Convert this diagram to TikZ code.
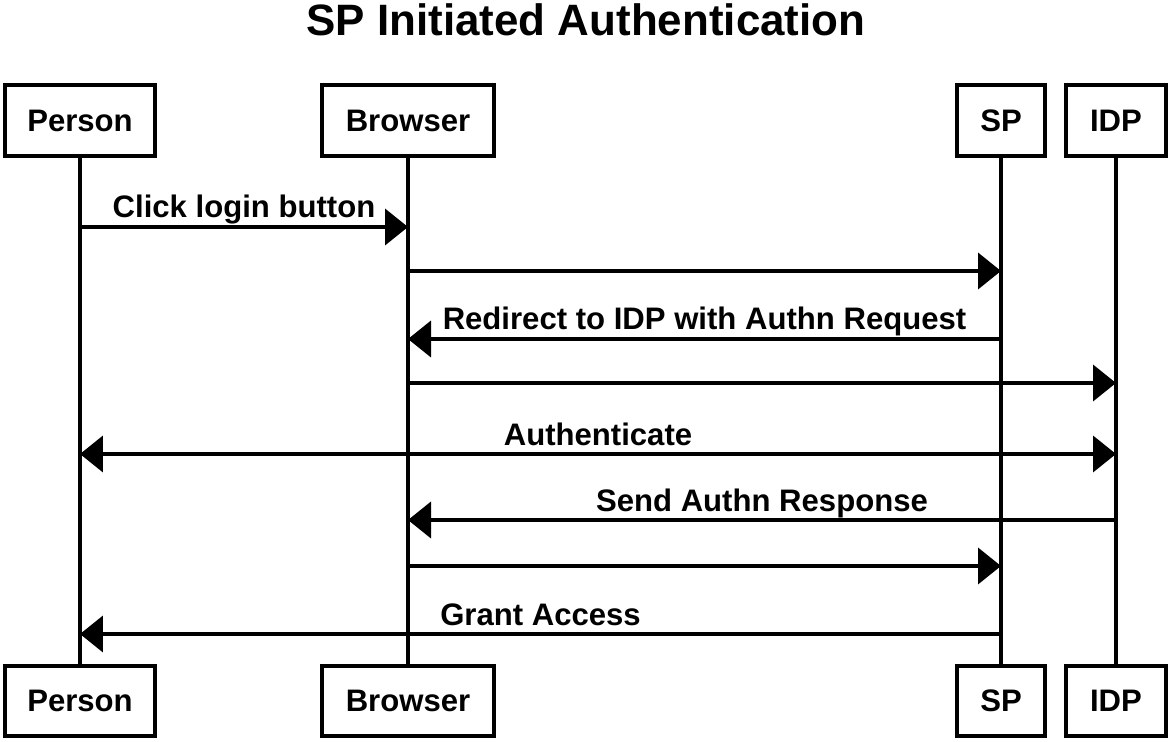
\documentclass[tikz,border=0pt]{standalone}
\usepackage{fontspec}
\setmainfont{Liberation Sans}
\usetikzlibrary{arrows.meta}

\begin{document}
\begin{tikzpicture}[x=0.02cm, y=-0.02cm,
  actor/.style={draw, line width=0.08cm, minimum height=1.42cm, inner sep=0pt, font=\fontsize{17.7}{20}\selectfont\bfseries},
  life/.style={line width=0.08cm},
  msg/.style={line width=0.08cm, -{Triangle[length=0.46cm, width=0.72cm]}},
  both/.style={line width=0.08cm, {Triangle[length=0.46cm, width=0.72cm]}-{Triangle[length=0.46cm, width=0.72cm]}},
  lbl/.style={midway, anchor=base, yshift=0.18cm, font=\fontsize{17.7}{20}\selectfont\bfseries},
]
\useasboundingbox (0,0) rectangle (1169,742);
\node[anchor=base, font=\fontsize{25}{30}\selectfont\bfseries] (title) at (586,36) {SP Initiated Authentication};

\node[actor, minimum width=3.02cm] (pT) at (80,121) {Person};
\node[actor, minimum width=3.46cm] (bT) at (408,121) {Browser};
\node[actor, minimum width=1.76cm] (sT) at (1001,121) {SP};
\node[actor, minimum width=2.0cm]  (iT) at (1116,121) {IDP};

\node[actor, minimum width=3.02cm] (pB) at (80,701) {Person};
\node[actor, minimum width=3.46cm] (bB) at (408,701) {Browser};
\node[actor, minimum width=1.76cm] (sB) at (1001,701) {SP};
\node[actor, minimum width=2.0cm]  (iB) at (1116,701) {IDP};

\draw[life] (pT) -- (pB);
\draw[life] (bT) -- (bB);
\draw[life] (sT) -- (sB);
\draw[life] (iT) -- (iB);

\draw[msg] (pT |- 0,227) -- (bT |- 0,227) node[lbl] {Click login button};
\draw[msg] (bT |- 0,271) -- (sT |- 0,271);
\draw[msg] (sT |- 0,339) -- (bT |- 0,339) node[lbl] {Redirect to IDP with Authn Request};
\draw[msg] (bT |- 0,383) -- (iT |- 0,383);
\draw[both] (pT |- 0,454) -- (iT |- 0,454) node[lbl] {Authenticate};
\draw[msg] (iT |- 0,520) -- (bT |- 0,520) node[lbl] {Send Authn Response};
\draw[msg] (bT |- 0,566) -- (sT |- 0,566);
\draw[msg] (sT |- 0,634) -- (pT |- 0,634) node[lbl] {Grant Access};
\end{tikzpicture}
\end{document}
